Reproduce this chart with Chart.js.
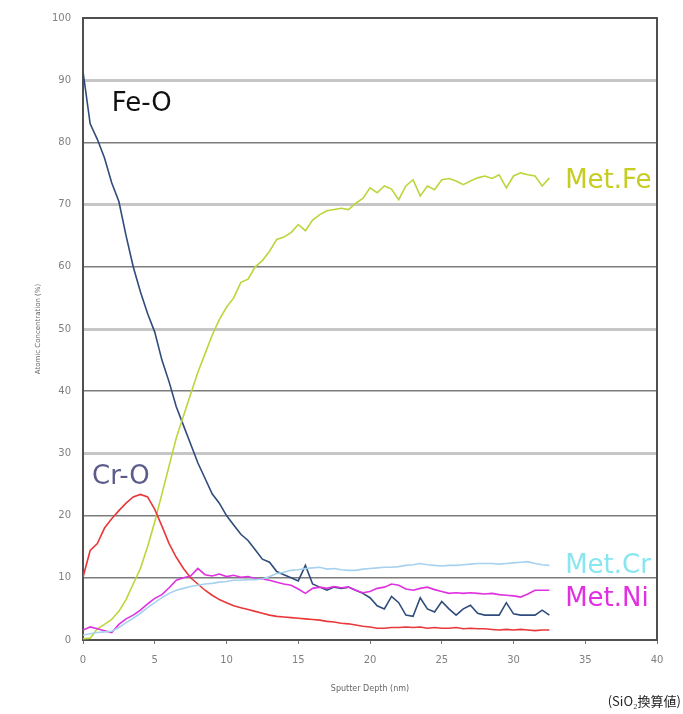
<!DOCTYPE html>
<html>
<head>
<meta charset="utf-8">
<script src="https://cdn.jsdelivr.net/npm/chart.js@4.4.0/dist/chart.umd.min.js"></script>
<style>
  html, body { margin: 0; padding: 0; background: #fff; }
  #wrap { width: 683px; height: 714px; position: relative; }
</style>
</head>
<body>
<div id="wrap"><canvas id="myChart"></canvas></div>
<script>
// sputter depth (nm)
const depth = [0, 0.5, 1, 1.5, 2, 2.5, 3, 3.5, 4, 4.5, 5, 5.5, 6, 6.5, 7, 7.5, 8, 8.5, 9, 9.5,
  10, 10.5, 11, 11.5, 12, 12.5, 13, 13.5, 14, 14.5, 15, 15.5, 16, 16.5, 17, 17.5, 18, 18.5, 19, 19.5,
  20, 20.5, 21, 21.5, 22, 22.5, 23, 23.5, 24, 24.5, 25, 25.5, 26, 26.5, 27, 27.5, 28, 28.5, 29, 29.5,
  30, 30.5, 31, 31.5, 32, 32.5];

// atomic concentration (%)
const feO = [91.4, 83, 80.5, 77.5, 73.5, 70.5, 65, 60, 56, 52.5, 49.5, 45, 41.5, 37.5, 34.5, 31.5, 28.5, 26, 23.5, 22,
  20, 18.5, 17, 16, 14.5, 13, 12.5, 11, 10.5, 10, 9.5, 12, 9, 8.5, 8, 8.5, 8.3, 8.5, 8, 7.5,
  6.8, 5.5, 5, 7, 6, 4, 3.8, 6.8, 5, 4.5, 6.2, 5, 4, 5, 5.6, 4.3, 4, 4, 4, 6,
  4.2, 4, 4, 4, 4.8, 4];
const metFe = [0.2, 0.3, 1.8, 2.5, 3.3, 4.6, 6.5, 9, 11.5, 15, 19, 23.5, 28, 32.5, 36, 39.5, 43, 46, 49, 51.5,
  53.5, 55, 57.5, 58, 60, 61, 62.5, 64.4, 64.8, 65.5, 66.8, 65.8, 67.5, 68.4, 69, 69.2, 69.4, 69.2, 70.2, 71,
  72.7, 71.9, 73, 72.5, 70.8, 73, 74, 71.4, 73, 72.4, 74, 74.2, 73.8, 73.2, 73.8, 74.3, 74.6, 74.2, 74.8, 72.7,
  74.6, 75.1, 74.8, 74.6, 73, 74.3];
const crO = [10.1, 14.4, 15.5, 18, 19.5, 20.8, 22, 23, 23.4, 23, 21, 18.3, 15.5, 13.3, 11.5, 10, 9, 8, 7.2, 6.5,
  6, 5.5, 5.2, 4.9, 4.6, 4.3, 4, 3.8, 3.7, 3.6, 3.5, 3.4, 3.3, 3.2, 3, 2.9, 2.7, 2.6, 2.4, 2.2,
  2.1, 1.9, 1.9, 2, 2, 2.1, 2, 2.1, 1.9, 2, 1.9, 1.9, 2, 1.8, 1.9, 1.8, 1.8, 1.7, 1.6, 1.7,
  1.6, 1.7, 1.6, 1.5, 1.6, 1.6];
const metNi = [1.6, 2.1, 1.8, 1.5, 1.2, 2.5, 3.4, 4, 4.8, 5.8, 6.7, 7.3, 8.4, 9.6, 10, 10.3, 11.5, 10.5, 10.3, 10.6,
  10.2, 10.4, 10.1, 10.2, 9.9, 9.8, 9.6, 9.3, 9, 8.8, 8.2, 7.5, 8.3, 8.5, 8.3, 8.6, 8.4, 8.5, 8, 7.6,
  7.8, 8.3, 8.5, 9, 8.8, 8.2, 8, 8.3, 8.5, 8.1, 7.8, 7.5, 7.6, 7.5, 7.6, 7.5, 7.4, 7.5, 7.3, 7.2,
  7.1, 6.9, 7.4, 8, 8, 8];
const metCr = [0.8, 1, 1.2, 1.3, 1.4, 2, 2.8, 3.5, 4.3, 5.2, 6, 6.8, 7.5, 8, 8.3, 8.6, 8.8, 9, 9.1, 9.3,
  9.4, 9.6, 9.6, 9.7, 9.7, 9.8, 10.2, 10.7, 10.9, 11.2, 11.3, 11.5, 11.6, 11.7, 11.4, 11.5, 11.3, 11.2, 11.2, 11.4,
  11.5, 11.6, 11.7, 11.7, 11.8, 12, 12.1, 12.3, 12.1, 12, 11.9, 12, 12, 12.1, 12.2, 12.3, 12.3, 12.3, 12.2, 12.3,
  12.4, 12.5, 12.6, 12.3, 12.1, 12];

const xTicks = [0, 5, 10, 15, 20, 25, 30, 35, 40];

//Series labels written inside the plot
const seriesLabels = [
  { text: 'Fe-O', at: [2.0, 86.1], color: '#111111' },
  { text: 'Cr-O', at: [0.63, 26.2], color: '#5c5c8c' },
  { text: 'Met.Fe', at: [33.6, 73.8], color: '#c6cc20' },
  { text: 'Met.Cr', at: [33.6, 11.8], color: '#88e6f0' },
  { text: 'Met.Ni', at: [33.6, 6.5], color: '#e030e0' }
];

function pts(values) {
  return values.map(function (v, i) {
    return { x: depth[i], y: v };
  });
}

function line(label, values, color) {
  return {
    label: label,
    data: pts(values),
    borderColor: color,
    borderWidth: 1.6,
    pointRadius: 0,
    tension: 0,
    fill: false
  };
}

const framePlugin = {
  id: 'frame',
  beforeDatasetsDraw(chart) {
    const a = chart.chartArea;
    const c = chart.ctx;
    c.save();
    c.strokeStyle = '#505050';
    c.lineWidth = 2;
    c.strokeRect(a.left, a.top, a.right - a.left, a.bottom - a.top);
    c.restore();
  },
  afterDatasetsDraw(chart) {
    const c = chart.ctx;
    const xs = chart.scales.x;
    const ys = chart.scales.y;
    c.save();
    c.font = '26px "DejaVu Sans"';
    c.textBaseline = 'middle';
    c.textAlign = 'left';
    seriesLabels.forEach(function (l) {
      c.fillStyle = l.color;
      c.fillText(l.text, xs.getPixelForValue(l.at[0]), ys.getPixelForValue(l.at[1]));
    });
    // note under the x axis
    c.fillStyle = '#222';
    c.font = '13px "Noto Sans CJK JP"';
    c.textAlign = 'right';
    c.fillText('(SiO\u2082換算値)', chart.width - 2, 701);
    c.restore();
  }
};

let ctx = document.getElementById('myChart');
let myChart = new Chart(ctx, {
  type: 'line',
  data: {
    datasets: [
      line('Met.Cr', metCr, '#a6d2ee'),
      line('Met.Ni', metNi, '#e030e0'),
      line('Cr-O', crO, '#e8383a'),
      line('Met.Fe', metFe, '#bad63a'),
      line('Fe-O', feO, '#2f4c7c')
    ]
  },
  options: {
    responsive: true,
    maintainAspectRatio: false,
    animation: false,
    layout: { padding: { top: 14, right: 26, left: 0, bottom: 0 } },
    plugins: {
      legend: { display: false },
      tooltip: { enabled: false }
    },
    scales: {
      x: {
        type: 'linear',
        min: 0,
        max: 40,
        afterBuildTicks: function (scale) {
          scale.ticks = xTicks.map(function (v) { return { value: v }; });
        },
        afterFit: function (scale) { scale.height = 74; },
        grid: { drawOnChartArea: false, drawTicks: true, tickLength: 4, color: '#777' },
        border: { display: false },
        ticks: { color: '#808080', font: { family: 'DejaVu Sans', size: 10 }, padding: 10, maxRotation: 0 },
        title: {
          display: true,
          text: 'Sputter Depth (nm)',
          color: '#666',
          font: { family: 'DejaVu Sans', size: 8 },
          padding: { top: 0, bottom: 20 }
        }
      },
      y: {
        min: 0,
        max: 100,
        afterFit: function (scale) { scale.width = 83; },
        ticks: { stepSize: 10, color: '#808080', font: { family: 'DejaVu Sans', size: 10 }, padding: 12 },
        grid: {
          drawTicks: false,
          color: function (c) {
            const v = c.tick.value;
            return (v % 20 === 10 && v !== 10) ? '#c6c6c6' : '#7c7c7c';
          },
          lineWidth: function (c) {
            const v = c.tick.value;
            return (v % 20 === 10 && v !== 10) ? 3 : 1.6;
          }
        },
        border: { display: false },
        title: {
          display: true,
          text: 'Atomic Concentration (%)',
          color: '#666',
          font: { family: 'DejaVu Sans', size: 7 },
          padding: { top: 34, bottom: 0 }
        }
      }
    }
  },
  plugins: [framePlugin]
});
</script>
</body>
</html>
